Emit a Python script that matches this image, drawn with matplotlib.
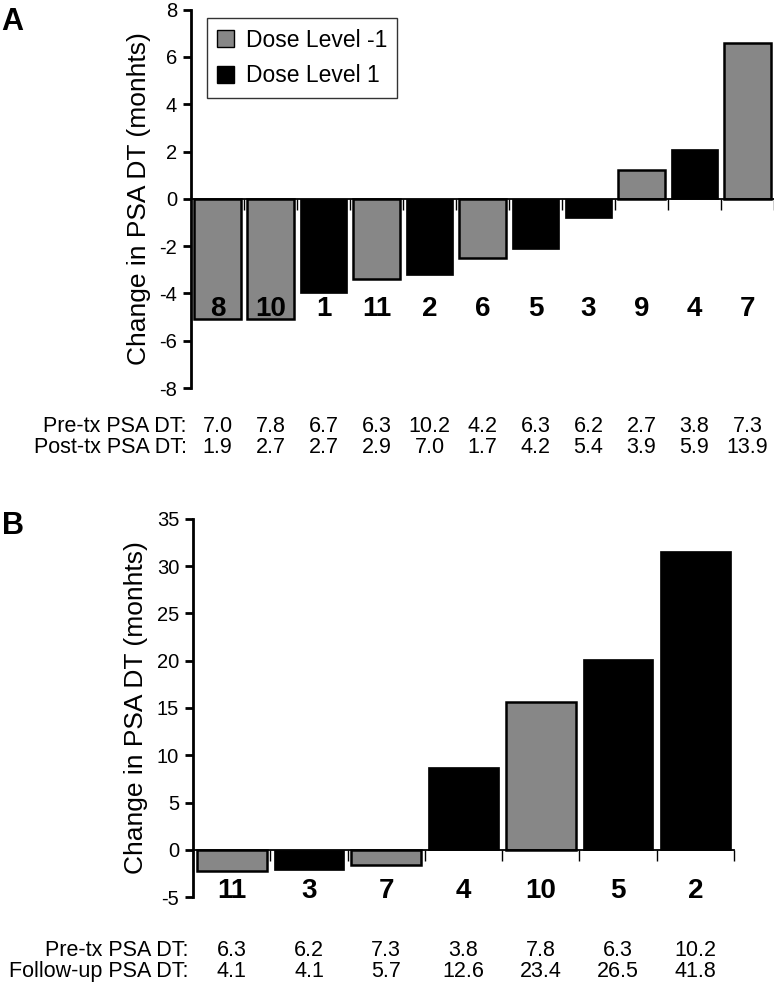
import matplotlib
matplotlib.use("Agg")
import matplotlib.pyplot as plt
import matplotlib.transforms as mtransforms
from matplotlib.patches import Patch

plt.rcParams["font.family"] = ["Liberation Sans", "DejaVu Sans"]
plt.rcParams["axes.unicode_minus"] = False

GREY = "#878787"
BLACK = "#000000"

# Panel A: change in PSA DT per patient
a_patients = ["8", "10", "1", "11", "2", "6", "5", "3", "9", "4", "7"]
a_change = [-5.1, -5.1, -4.0, -3.4, -3.2, -2.5, -2.1, -0.8, 1.2, 2.1, 6.6]
a_dose = [-1, -1, 1, -1, 1, -1, 1, 1, -1, 1, -1]
a_pre = ["7.0", "7.8", "6.7", "6.3", "10.2", "4.2", "6.3", "6.2", "2.7", "3.8", "7.3"]
a_post = ["1.9", "2.7", "2.7", "2.9", "7.0", "1.7", "4.2", "5.4", "3.9", "5.9", "13.9"]
a_yticks = [-8, -6, -4, -2, 0, 2, 4, 6, 8]

# Panel B: change in PSA DT at follow-up
b_patients = ["11", "3", "7", "4", "10", "5", "2"]
b_change = [-2.2, -2.1, -1.6, 8.8, 15.6, 20.2, 31.6]
b_dose = [-1, 1, -1, 1, -1, 1, 1]
b_pre = ["6.3", "6.2", "7.3", "3.8", "7.8", "6.3", "10.2"]
b_follow = ["4.1", "4.1", "5.7", "12.6", "23.4", "26.5", "41.8"]
b_yticks = [-5, 0, 5, 10, 15, 20, 25, 30, 35]


def dose_bars(ax, change, dose, width):
    x = list(range(len(change)))
    for xi, val, d in zip(x, change, dose):
        if d == -1:
            ax.bar(xi, val, width=width, color=GREY, edgecolor=BLACK, linewidth=1.8, zorder=2)
        else:
            ax.bar(xi, val, width=width, color=BLACK, edgecolor=BLACK, linewidth=0.5, zorder=2)
    return x


def style_axis(ax, n, yticks):
    ax.set_xlim(-0.5, n - 0.5)
    ax.set_ylim(yticks[0], yticks[-1])
    ax.set_yticks(yticks)
    ax.spines["top"].set_visible(False)
    ax.spines["right"].set_visible(False)
    ax.spines["left"].set_linewidth(2.0)
    ax.spines["bottom"].set_position(("data", 0))
    ax.spines["bottom"].set_linewidth(1.3)
    ax.spines["bottom"].set_zorder(3)
    ax.set_xticks([i + 0.5 for i in range(n)])
    ax.set_xticklabels([])
    ax.tick_params(axis="x", direction="out", length=8, width=1.0)
    ax.tick_params(axis="y", direction="out", length=6, width=2.0, labelsize=14.5, pad=4)
    ax.set_ylabel("Change in PSA DT (monhts)", fontsize=19, labelpad=6)


def table_rows(fig, ax, labels, rows, ys, label_x):
    trans = mtransforms.blended_transform_factory(ax.transData, fig.transFigure)
    for label, row, y in zip(labels, rows, ys):
        fig.text(label_x, y, label, ha="right", va="center", fontsize=15.5)
        for i, v in enumerate(row):
            ax.text(i, y, v, ha="center", va="center", fontsize=15.5, transform=trans, clip_on=False)


fig = plt.figure(figsize=(7.74, 9.9), dpi=100)

# ---- Panel A
ax_a = fig.add_axes([0.2468, 0.608, 0.753, 0.3823])
dose_bars(ax_a, a_change, a_dose, 0.9)
style_axis(ax_a, len(a_patients), a_yticks)
for i, p in enumerate(a_patients):
    ax_a.text(i, -4.65, p, ha="center", va="center", fontsize=20, fontweight="bold", zorder=4)

handles = [
    Patch(facecolor=GREY, edgecolor=BLACK, linewidth=1.0, label="Dose Level -1"),
    Patch(facecolor=BLACK, edgecolor=BLACK, label="Dose Level 1"),
]
leg = ax_a.legend(
    handles=handles,
    loc="upper left",
    bbox_to_anchor=(0.027, 0.977),
    borderaxespad=0,
    fontsize=16.5,
    frameon=True,
    fancybox=False,
    edgecolor=BLACK,
    handlelength=0.75,
    handleheight=0.75,
    handletextpad=0.5,
    borderpad=0.45,
    labelspacing=0.55,
)
leg.get_frame().set_linewidth(1.0)

table_rows(fig, ax_a, ["Pre-tx PSA DT:", "Post-tx PSA DT:"], [a_pre, a_post], [0.5687, 0.5475], 0.241)
fig.text(0.002, 0.978, "A", fontsize=22, fontweight="bold", va="center")

# ---- Panel B
ax_b = fig.add_axes([0.2494, 0.0939, 0.6990, 0.3819])
dose_bars(ax_b, b_change, b_dose, 0.91)
style_axis(ax_b, len(b_patients), b_yticks)
for i, p in enumerate(b_patients):
    ax_b.text(i, -4.4, p, ha="center", va="center", fontsize=20, fontweight="bold", zorder=4)

table_rows(fig, ax_b, ["Pre-tx PSA DT:", "Follow-up PSA DT:"], [b_pre, b_follow], [0.0394, 0.0182], 0.243)
fig.text(0.002, 0.469, "B", fontsize=22, fontweight="bold", va="center")

fig.savefig("out.png", dpi=100)
